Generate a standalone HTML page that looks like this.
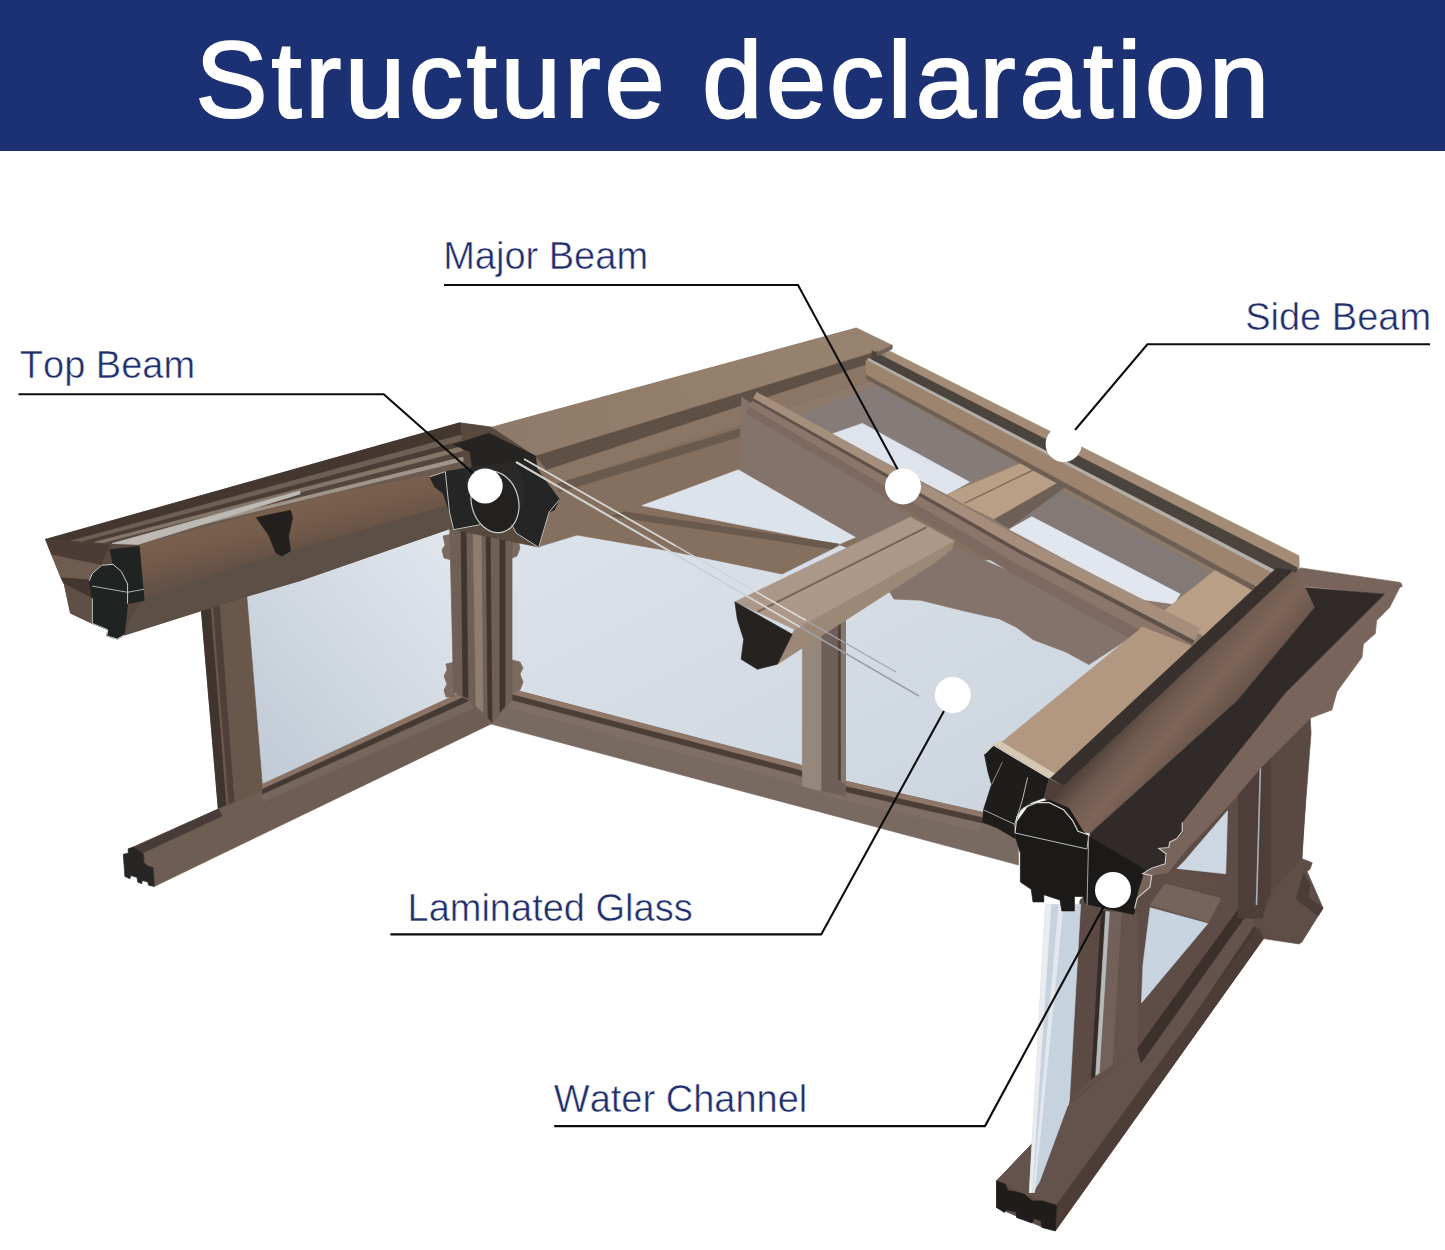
<!DOCTYPE html>
<html lang="en">
<head>
<meta charset="utf-8">
<title>Structure declaration</title>
<style>
html,body{margin:0;padding:0;background:#fff;}
body{width:1445px;height:1250px;position:relative;overflow:hidden;font-family:"Liberation Sans",Arial,sans-serif;}
#hdr{position:absolute;left:0;top:0;width:1445px;height:151px;background:#1c3074;}
#hdr h1{position:absolute;left:195.5px;top:17.5px;margin:0;font-weight:400;font-size:108px;line-height:124px;letter-spacing:3.85px;color:#fff;white-space:nowrap;-webkit-text-stroke:2.2px #fff;}
.lbl{position:absolute;font-size:37px;line-height:40px;color:#1f2f6e;white-space:nowrap;}
#art{position:absolute;left:0;top:0;width:1445px;height:1250px;}
</style>
</head>
<body>
<svg id="art" viewBox="0 0 1445 1250" width="1445" height="1250">
<defs>
<linearGradient id="gGlassL" x1="0" y1="1" x2="1" y2="0">
<stop offset="0" stop-color="#bfc9d4"/><stop offset="1" stop-color="#e3e8ee"/>
</linearGradient>
<linearGradient id="gGlassB" x1="0" y1="0" x2="1" y2="1">
<stop offset="0" stop-color="#dde3ea"/><stop offset="1" stop-color="#cad3dd"/>
</linearGradient>
</defs>
<!--LAYERS-->
<linearGradient id="gLB" gradientUnits="userSpaceOnUse" x1="250" y1="500" x2="265" y2="560"><stop offset="0" stop-color="#7d6452"/><stop offset=".55" stop-color="#765c4b"/><stop offset="1" stop-color="#645246"/></linearGradient>
<linearGradient id="gHump" gradientUnits="userSpaceOnUse" x1="1150" y1="690" x2="1222" y2="755"><stop offset="0" stop-color="#4f3f38"/><stop offset=".22" stop-color="#705b50"/><stop offset=".45" stop-color="#7d6658"/><stop offset=".8" stop-color="#655046"/><stop offset="1" stop-color="#453832"/></linearGradient>
<linearGradient id="gTopB" gradientUnits="userSpaceOnUse" x1="520" y1="420" x2="880" y2="340"><stop offset="0" stop-color="#907b6a"/><stop offset="1" stop-color="#988370"/></linearGradient>
<!-- left wall -->
<polygon points="244.0,597.0 453.0,527.0 468.0,692.0 262.0,787.0" fill="url(#gGlassL)"/>
<polygon points="201.0,606.0 246.4,592.0 262.7,790.0 262.7,810.0 218.4,810.0" fill="#6a574b" stroke="#6a574b" stroke-width="0.7" stroke-linejoin="round"/>
<polygon points="201.0,606.0 210.0,603.0 226.0,806.0 218.4,810.0" fill="#40342e" stroke="#40342e" stroke-width="0.7" stroke-linejoin="round"/>
<polygon points="213.0,602.0 219.0,600.0 234.0,802.0 229.0,804.0" fill="#4e4038" stroke="#4e4038" stroke-width="0.7" stroke-linejoin="round"/>
<polygon points="133.0,847.0 218.4,809.0 262.7,791.0 467.0,695.5 491.0,724.0 154.3,886.4 153.2,867.6 147.6,866.0 143.7,862.1 143.7,854.3" fill="#6e5d53" stroke="#6e5d53" stroke-width="0.7" stroke-linejoin="round"/>
<polygon points="262.7,784.0 465.5,690.3 467.8,695.3 262.7,789.0" fill="#8a7364" stroke="#8a7364" stroke-width="0.7" stroke-linejoin="round"/>
<polygon points="262.7,789.0 467.8,695.3 470.2,700.8 262.7,794.5" fill="#453933" stroke="#453933" stroke-width="0.7" stroke-linejoin="round"/>
<polygon points="262.7,794.5 470.2,700.8 473.6,708.3 262.7,802.0" fill="#76665b" stroke="#76665b" stroke-width="0.7" stroke-linejoin="round"/>
<polygon points="128.0,850.0 218.4,809.0 222.0,816.0 136.0,856.0" fill="#473c37" stroke="#473c37" stroke-width="0.7" stroke-linejoin="round"/>
<polygon points="123.3,854.3 128.2,853.2 128.2,848.8 133.2,847.1 143.7,854.3 143.7,862.1 147.6,866.0 153.2,867.6 154.3,886.4 148.7,885.3 147.6,882.0 142.6,880.4 141.5,883.7 137.7,882.0 137.1,877.6 131.0,875.4 129.9,878.7 124.9,876.5" fill="#282624" stroke="#282624" stroke-width="0.7" stroke-linejoin="round"/>
<!-- back wall -->
<polygon points="511.0,500.0 1000.0,560.0 1120.0,600.0 1150.0,640.0 1005.0,745.0 1000.0,822.0 985.0,817.0 842.0,784.0 800.0,770.0 511.0,694.0" fill="url(#gGlassB)"/>
<polygon points="511.0,689.0 800.3,765.0 838.4,779.6 981.0,812.0 1018.0,833.0 1018.5,865.0 491.0,724.0 468.0,696.0" fill="#786961" stroke="#786961" stroke-width="0.7" stroke-linejoin="round"/>
<polygon points="511.0,689.0 800.3,765.0 838.4,779.6 985.0,813.0 983.5,818.0 836.9,784.6 798.8,770.0 509.5,694.0" fill="#8f786a" stroke="#8f786a" stroke-width="0.7" stroke-linejoin="round"/>
<polygon points="509.5,694.0 798.8,770.0 836.9,784.6 983.5,818.0 981.9,823.5 835.2,790.1 797.1,775.5 507.9,699.5" fill="#4b3e37" stroke="#4b3e37" stroke-width="0.7" stroke-linejoin="round"/>
<polygon points="507.9,699.5 797.1,775.5 835.2,790.1 981.9,823.5 979.6,831.0 833.0,797.6 794.9,783.0 505.6,707.0" fill="#7f6e64" stroke="#7f6e64" stroke-width="0.7" stroke-linejoin="round"/>
<polygon points="802.4,620.0 845.3,610.0 845.3,796.0 802.4,786.0" fill="#96877d" stroke="#96877d" stroke-width="0.7" stroke-linejoin="round"/>
<polygon points="821.8,615.0 845.3,610.0 845.3,796.0 821.8,791.0" fill="#6e5f58" stroke="#6e5f58" stroke-width="0.7" stroke-linejoin="round"/>
<polygon points="838.4,612.0 841.2,611.0 841.2,781.0 838.4,780.0" fill="#4d413a" stroke="#4d413a" stroke-width="0.7" stroke-linejoin="round"/>
<polygon points="841.2,611.0 845.3,610.0 845.3,783.0 841.2,781.5" fill="#87786e" stroke="#87786e" stroke-width="0.7" stroke-linejoin="round"/>
<!-- corner post -->
<polygon points="446.0,664.0 455.0,662.0 455.0,697.0 446.0,697.0 444.0,690.0 447.0,684.0 444.0,676.0 447.0,670.0" fill="#7a6a5f" stroke="#7a6a5f" stroke-width="0.7" stroke-linejoin="round"/>
<polygon points="512.0,660.0 520.0,662.0 523.0,668.0 520.0,674.0 523.0,682.0 520.0,690.0 512.0,693.0" fill="#7a6a5f" stroke="#7a6a5f" stroke-width="0.7" stroke-linejoin="round"/>
<polygon points="443.0,536.0 452.0,534.0 452.0,560.0 444.0,558.0 442.0,550.0 445.0,545.0" fill="#7a6a5f" stroke="#7a6a5f" stroke-width="0.7" stroke-linejoin="round"/>
<polygon points="512.0,538.0 518.0,540.0 520.0,548.0 517.0,556.0 512.0,558.0" fill="#7a6a5f" stroke="#7a6a5f" stroke-width="0.7" stroke-linejoin="round"/>
<polygon points="449.5,520.0 512.0,520.0 512.0,700.0 491.0,724.0 468.0,700.0 453.6,692.0" fill="#6f5f54" stroke="#6f5f54" stroke-width="0.7" stroke-linejoin="round"/>
<polygon points="461.0,525.0 466.0,525.0 468.0,698.0 463.0,696.0" fill="#40352f" stroke="#40352f" stroke-width="0.7" stroke-linejoin="round"/>
<polygon points="473.0,525.0 481.0,525.0 483.0,712.0 476.0,706.0" fill="#8e7d70" stroke="#8e7d70" stroke-width="0.7" stroke-linejoin="round"/>
<polygon points="486.0,525.0 490.0,525.0 492.0,722.0 488.0,718.0" fill="#40352f" stroke="#40352f" stroke-width="0.7" stroke-linejoin="round"/>
<polygon points="500.0,525.0 505.0,525.0 505.0,706.0 500.0,712.0" fill="#40352f" stroke="#40352f" stroke-width="0.7" stroke-linejoin="round"/>
<!-- right wall -->
<polygon points="1080.0,900.0 1240.0,760.0 1310.0,712.0 1302.0,860.0 1323.0,908.0 1299.5,944.0 1263.5,938.6 1055.3,1230.8 1042.0,1227.0 996.6,1207.5 996.6,1180.9 1069.0,1105.0" fill="#5e4c46" stroke="#5e4c46" stroke-width="0.7" stroke-linejoin="round"/>
<polygon points="1150.2,907.7 1207.8,923.6 1141.5,1002.8 1143.0,965.0" fill="#c8d4e0" stroke="#c8d4e0" stroke-width="0.7" stroke-linejoin="round"/>
<polygon points="1150.0,905.0 1165.0,884.0 1221.0,898.0 1208.5,922.5" fill="#75645c" stroke="#75645c" stroke-width="0.7" stroke-linejoin="round"/>
<polygon points="1164.6,881.8 1176.1,868.8 1222.2,878.9 1220.8,897.6" fill="#5f4d46" stroke="#5f4d46" stroke-width="0.7" stroke-linejoin="round"/>
<polygon points="1184.3,861.2 1227.5,810.8 1225.7,873.8 1177.1,868.4" fill="#cdd7e2" stroke="#cdd7e2" stroke-width="0.7" stroke-linejoin="round"/>
<polygon points="1137.5,1048.5 1241.9,904.4 1258.0,928.0 1056.4,1205.3 1024.0,1194.0 1005.0,1184.0 996.6,1180.9 1069.0,1105.0" fill="#64524c" stroke="#64524c" stroke-width="0.7" stroke-linejoin="round"/>
<polygon points="1137.5,1048.5 1241.9,904.4 1247.3,913.4 1141.1,1062.9" fill="#3c302c" stroke="#3c302c" stroke-width="0.7" stroke-linejoin="round"/>
<polygon points="1155.5,1073.7 1254.5,926.0 1258.1,931.4 1159.1,1084.5" fill="#463a35" stroke="#463a35" stroke-width="0.7" stroke-linejoin="round"/>
<polygon points="1079.8,909.8 1137.5,913.4 1137.5,1048.5 1069.0,1100.7" fill="#64524c" stroke="#64524c" stroke-width="0.7" stroke-linejoin="round"/>
<polygon points="1079.8,909.8 1101.4,911.3 1091.4,1079.1 1069.0,1100.7" fill="#5c4a44" stroke="#5c4a44" stroke-width="0.7" stroke-linejoin="round"/>
<polygon points="1101.4,911.3 1105.8,911.6 1095.7,1075.5 1091.4,1079.1" fill="#352c29" stroke="#352c29" stroke-width="0.7" stroke-linejoin="round"/>
<polygon points="1105.8,911.6 1110.1,912.0 1100.0,1072.6 1095.7,1075.5" fill="#b5baba" stroke="#b5baba" stroke-width="0.7" stroke-linejoin="round"/>
<polygon points="1110.1,912.0 1121.3,912.4 1112.3,1064.7 1100.0,1072.6" fill="#73605a" stroke="#73605a" stroke-width="0.7" stroke-linejoin="round"/>
<polygon points="1262.5,750.0 1310.0,716.0 1311.0,733.0 1301.4,858.5 1262.0,900.0" fill="#5a4943" stroke="#5a4943" stroke-width="0.7" stroke-linejoin="round"/>
<polygon points="1238.3,763.3 1270.7,741.7 1270.7,918.1 1238.3,918.1" fill="#4e3f3a" stroke="#4e3f3a" stroke-width="0.7" stroke-linejoin="round"/>
<polygon points="1301.4,858.5 1312.2,862.8 1310.0,869.3 1303.6,873.6 1310.0,884.4 1307.9,897.3 1323.0,908.0 1301.4,942.7 1271.2,934.0 1260.4,927.6 1268.0,900.0" fill="#5f4e48" stroke="#5f4e48" stroke-width="0.7" stroke-linejoin="round"/>
<polygon points="1303.6,873.6 1310.0,884.4 1307.9,897.3 1323.0,908.0 1318.0,916.0 1296.0,899.0" fill="#4a3c37" stroke="#4a3c37" stroke-width="0.7" stroke-linejoin="round"/>
<polyline points="1260.4,768.0 1256.5,905.0" fill="none" stroke="#a9afb8" stroke-width="1.6"/>
<polygon points="1056.4,1205.3 1258.0,928.0 1263.5,938.6 1055.3,1230.8" fill="#4d3d37" stroke="#4d3d37" stroke-width="0.7" stroke-linejoin="round"/>
<polygon points="996.6,1180.9 1005.5,1184.3 1007.7,1190.4 1016.5,1192.0 1024.3,1194.2 1032.0,1200.9 1042.0,1200.9 1056.4,1205.3 1055.3,1230.8 1042.0,1227.5 1040.9,1220.8 1034.3,1218.6 1032.0,1223.0 1016.5,1217.5 1016.5,1212.0 1006.6,1209.7 1004.4,1212.5 996.6,1207.5" fill="#1f1c1a" stroke="#1f1c1a" stroke-width="0.7" stroke-linejoin="round"/>
<polygon points="1045.6,904.4 1080.6,904.4 1069.4,1100.7 1039.5,1181.7 1033.0,1192.5 1029.4,1192.5" fill="#c6d2de" stroke="#c6d2de" stroke-width="0.7" stroke-linejoin="round"/>
<polygon points="1045.6,904.4 1051.0,904.4 1031.9,1192.5 1029.4,1192.5" fill="#e9edf1" stroke="#e9edf1" stroke-width="0.7" stroke-linejoin="round"/>
<polygon points="1059.0,904.4 1063.3,904.4 1034.5,1192.5 1033.0,1192.5" fill="#e3e8ee" stroke="#e3e8ee" stroke-width="0.7" stroke-linejoin="round"/>
<!-- roof back beam -->
<polygon points="536.0,457.0 880.0,355.0 1000.0,420.0 1000.0,560.0 880.0,560.0 840.0,545.0 782.0,574.0 674.5,551.7 577.0,535.0 538.7,546.7" fill="#85705f" stroke="#85705f" stroke-width="0.7" stroke-linejoin="round"/>
<polygon points="642.1,505.6 739.2,469.5 856.3,536.7 838.9,544.2" fill="#dde3eb" stroke="#dde3eb" stroke-width="0.7" stroke-linejoin="round"/>
<polygon points="624.6,511.8 838.9,544.0 832.0,549.0 612.0,516.0" fill="#6a594d" stroke="#6a594d" stroke-width="0.7" stroke-linejoin="round"/>
<polygon points="756.0,392.0 880.0,350.0 1299.0,563.0 1297.0,580.0 1200.0,654.0 1145.0,630.0" fill="#8c7a6c" stroke="#8c7a6c" stroke-width="0.7" stroke-linejoin="round"/>
<polygon points="459.9,422.8 491.0,427.0 856.3,327.5 892.3,345.0 877.4,352.4 536.0,457.0" fill="url(#gTopB)"/>
<polygon points="536.0,456.0 877.4,351.4 872.0,363.0 547.0,470.0" fill="#5f5046" stroke="#5f5046" stroke-width="0.7" stroke-linejoin="round"/>
<polygon points="547.0,470.0 872.0,363.0 880.0,378.0 556.0,484.0" fill="#8b7564" stroke="#8b7564" stroke-width="0.7" stroke-linejoin="round"/>
<polygon points="556.0,484.0 742.0,428.0 742.0,436.0 560.0,492.0" fill="#6a5a4d" stroke="#6a5a4d" stroke-width="0.7" stroke-linejoin="round"/>
<!-- roof panel right of major beam -->
<polygon points="874.9,386.0 1014.4,462.0 969.5,482.0 947.1,494.4 832.0,434.0 799.0,417.0" fill="#857b78" stroke="#857b78" stroke-width="0.7" stroke-linejoin="round"/>
<polygon points="832.0,434.0 862.4,423.4 969.5,482.0 947.1,494.4" fill="#dfe4ec" stroke="#dfe4ec" stroke-width="0.7" stroke-linejoin="round"/>
<polygon points="994.5,519.3 1056.7,489.4 1200.0,566.6 1213.7,584.1 1178.8,604.0 1009.4,529.3" fill="#837976" stroke="#837976" stroke-width="0.7" stroke-linejoin="round"/>
<polygon points="1009.4,529.3 1031.8,516.8 1180.1,594.0 1173.8,604.0 1139.0,599.0" fill="#e2e6ee" stroke="#e2e6ee" stroke-width="0.7" stroke-linejoin="round"/>
<polygon points="947.1,494.4 1024.4,462.0 1061.7,480.7 994.5,519.3 964.6,504.4" fill="#b89f86" stroke="#b89f86" stroke-width="0.7" stroke-linejoin="round"/>
<polygon points="994.5,519.3 1061.7,480.7 1064.2,487.4 1009.4,528.0" fill="#6e6056" stroke="#6e6056" stroke-width="0.7" stroke-linejoin="round"/>
<polyline points="964.6,503.1 1036.8,468.2" fill="none" stroke="#7d6b5c" stroke-width="1.5"/>
<polygon points="1163.6,611.3 1221.4,565.3 1276.7,574.5 1208.3,638.9" fill="#b89f86" stroke="#b89f86" stroke-width="0.7" stroke-linejoin="round"/>
<!-- side beam strips -->
<polygon points="886.0,349.2 1299.0,555.7 1299.0,568.6 886.0,357.9" fill="#a38b76" stroke="#a38b76" stroke-width="0.7" stroke-linejoin="round"/>
<polygon points="872.0,350.8 1297.0,567.6 1297.0,582.5 872.0,360.7" fill="#4b443e" stroke="#4b443e" stroke-width="0.7" stroke-linejoin="round"/>
<polygon points="868.0,358.1 1295.0,580.8 1295.0,585.2 868.0,361.0" fill="#b4afa8" stroke="#b4afa8" stroke-width="0.7" stroke-linejoin="round"/>
<polygon points="866.0,360.0 1287.0,581.0 1287.0,603.6 866.0,375.0" fill="#9c846f" stroke="#9c846f" stroke-width="0.7" stroke-linejoin="round"/>
<polygon points="866.0,375.0 1280.0,599.8 1280.0,605.2 866.0,378.6" fill="#6e5f54" stroke="#6e5f54" stroke-width="0.7" stroke-linejoin="round"/>
<polygon points="892.3,345.0 877.4,352.4 877.0,356.0 892.0,349.0" fill="#6e5f54" stroke="#6e5f54" stroke-width="0.7" stroke-linejoin="round"/>
<!-- major beam -->
<polygon points="741.7,397.0 951.9,546.2 1142.9,629.3 1088.9,664.6 1066.0,652.1 1032.9,639.6 1016.3,627.2 999.6,618.9 962.3,610.6 920.8,600.2 894.0,599.0 856.0,537.0 739.0,469.5" fill="#84736a" stroke="#84736a" stroke-width="0.7" stroke-linejoin="round"/>
<polygon points="756.7,392.2 850.0,443.6 947.0,497.0 1024.6,540.0 1100.0,578.0 1200.0,628.5 1194.0,640.5 1094.6,588.8 1019.7,549.9 942.5,505.9 846.1,451.3 753.4,398.8" fill="#a58f7c" stroke="#a58f7c" stroke-width="0.7" stroke-linejoin="round"/>
<polygon points="753.4,398.8 846.1,451.3 942.5,505.9 1019.7,549.9 1094.6,588.8 1194.0,640.5 1192.0,644.5 1092.8,592.4 1018.0,553.2 941.1,508.9 844.8,453.9 752.3,401.0" fill="#5f5048" stroke="#5f5048" stroke-width="0.7" stroke-linejoin="round"/>
<polygon points="752.3,401.0 844.8,453.9 941.1,508.9 1018.0,553.2 1092.8,592.4 1192.0,644.5 1186.5,655.5 1087.9,602.3 1013.5,562.2 937.0,517.1 841.3,461.0 749.3,407.1" fill="#8c7669" stroke="#8c7669" stroke-width="0.7" stroke-linejoin="round"/>
<polygon points="749.3,407.1 841.3,461.0 937.0,517.1 1013.5,562.2 1087.9,602.3 1186.5,655.5 1181.0,666.5 1082.9,612.2 1009.0,571.2 932.9,525.2 837.8,468.1 746.2,413.1" fill="#7d695f" stroke="#7d695f" stroke-width="0.7" stroke-linejoin="round"/>
<!-- cross beam left segment -->
<polygon points="794.7,629.3 954.2,540.9 951.7,549.6 931.8,564.6 777.3,664.2" fill="#9c8877" stroke="#9c8877" stroke-width="0.7" stroke-linejoin="round"/>
<polygon points="734.9,601.9 910.6,517.2 954.2,540.9 794.7,629.3" fill="#ac9888" stroke="#ac9888" stroke-width="0.7" stroke-linejoin="round"/>
<polyline points="757.4,611.9 926.8,527.2" fill="none" stroke="#766454" stroke-width="2"/>
<polygon points="734.9,601.9 792.2,634.3 777.3,664.2 757.4,669.2 741.2,659.2 743.7,639.3 737.4,619.4" fill="#252220" stroke="#252220" stroke-width="0.7" stroke-linejoin="round"/>
<!-- eave beam -->
<polygon points="1002.4,741.7 1142.5,627.0 1192.5,646.8 1050.5,778.2 993.4,745.0" fill="#b29880" stroke="#b29880" stroke-width="0.7" stroke-linejoin="round"/>
<polygon points="984.4,754.0 993.4,745.0 1049.2,778.3 1043.8,798.0 1031.2,802.6 1020.4,809.8 1014.1,826.0 1015.0,838.5 997.0,827.7 982.6,822.3 983.5,809.8 991.6,784.6 988.0,772.0" fill="#1f1d1b" stroke="#1f1d1b" stroke-width="0.7" stroke-linejoin="round"/>
<polyline points="984.4,754.0 993.4,745.0 1049.2,778.3" fill="none" stroke="#d8d4cc" stroke-width="1.3"/>
<polygon points="993.4,744.1 999.7,741.0 1056.4,774.7 1049.2,777.4" fill="#d6c8b3" stroke="#d6c8b3" stroke-width="0.7" stroke-linejoin="round"/>
<polyline points="1027.6,777.4 1022.2,800.8 1014.1,825.9" fill="none" stroke="#b9b9b4" stroke-width="1"/>
<polyline points="983.5,809.8 1014.1,824.1" fill="none" stroke="#a9a9a4" stroke-width="1"/>
<polyline points="1002.4,762.1 991.6,784.6" fill="none" stroke="#8f8f8a" stroke-width="1"/>
<!-- rubber strip -->
<!-- gutter -->
<polygon points="1300.3,567.9 1400.3,582.4 1402.4,586.3 1384.5,594.2 1303.0,586.3 1292.4,575.8" fill="#78645a" stroke="#78645a" stroke-width="0.7" stroke-linejoin="round"/>
<polygon points="1384.5,594.2 1401.6,583.7 1389.7,607.3 1376.6,620.5 1375.3,633.6 1363.4,644.0 1362.0,657.3 1337.0,691.5 1331.9,709.9 1310.8,717.8 1260.9,767.7 1229.3,804.5 1187.0,849.0 1167.9,872.7 1151.7,875.4 1149.9,887.1 1137.3,897.9 1133.9,914.5 1108.7,909.1 1092.0,900.0 1144.7,869.5 1182.6,821.7 1286.0,692.0" fill="#78645a" stroke="#78645a" stroke-width="0.7" stroke-linejoin="round"/>
<polygon points="1063.7,786.0 1292.4,570.5 1305.6,587.6 1314.8,607.3 1237.2,700.7 1090.0,833.5 1078.0,831.3 1072.6,820.5 1063.6,809.8 1049.2,802.6 1043.8,798.0 1049.2,778.3" fill="url(#gHump)"/>
<polygon points="1050.5,778.2 1276.7,567.9 1292.4,570.5 1063.7,786.0" fill="#37302d" stroke="#37302d" stroke-width="0.7" stroke-linejoin="round"/>
<polygon points="1305.6,587.6 1384.5,594.2 1286.0,692.0 1182.6,821.7 1182.6,832.5 1177.2,839.0 1169.7,841.2 1168.6,847.7 1158.9,848.7 1166.4,854.1 1165.4,863.9 1152.4,868.2 1142.7,873.6 1092.0,900.0 1090.0,833.5 1237.2,700.7 1314.8,607.3" fill="#302a28" stroke="#302a28" stroke-width="0.7" stroke-linejoin="round"/>
<polygon points="1015.0,824.5 1029.4,804.7 1049.2,800.0 1069.0,808.3 1083.4,831.7 1092.4,838.9 1144.7,869.5 1137.5,892.9 1133.9,914.5 1108.7,909.1 1085.2,903.7 1083.4,896.5 1074.4,896.5 1074.4,910.9 1061.8,910.9 1060.0,900.1 1043.8,894.7 1043.8,901.9 1033.0,901.9 1031.2,889.3 1020.4,882.1 1020.4,853.3 1015.0,835.3" fill="#1c1a19" stroke="#1c1a19" stroke-width="0.7" stroke-linejoin="round"/>
<polyline points="1015.0,833.0 1016.8,817.0 1024.0,808.0 1036.6,802.6 1049.2,802.6 1063.6,809.8 1072.6,820.5 1078.0,831.3 1088.7,835.0" fill="none" stroke="#d8d8d4" stroke-width="1.2"/>
<polyline points="1015.0,833.0 1087.0,849.0 1088.7,835.0" fill="none" stroke="#bdbdb8" stroke-width="1"/>
<polyline points="1088.7,835.0 1087.0,905.0" fill="none" stroke="#a5a5a0" stroke-width="1"/>
<polyline points="1182.3,822.3 1182.3,831.3 1176.9,838.5 1169.7,842.1 1168.8,847.5 1158.9,848.4 1166.1,853.8 1165.2,863.7 1151.7,868.2 1142.7,873.6 1151.7,875.4 1149.9,887.1 1137.3,897.9 1134.6,908.7" fill="none" stroke="#cfcac4" stroke-width="1.2"/>
<!-- left top beam -->
<polygon points="45.6,539.4 459.9,422.8 491.0,427.0 536.0,457.0 538.7,547.0 449.5,528.7 300.0,580.6 246.0,596.5 124.5,635.0 117.2,639.0 106.8,636.0 107.8,629.7 92.3,623.4 70.5,613.0 64.3,584.0 61.1,577.8 51.8,555.0" fill="#58493f" stroke="#58493f" stroke-width="0.7" stroke-linejoin="round"/>
<polygon points="45.6,539.4 459.9,422.8 461.0,435.1 71.1,540.8" fill="#43372f" stroke="#43372f" stroke-width="0.7" stroke-linejoin="round"/>
<polygon points="71.1,540.8 461.0,435.1 461.5,441.1 83.4,541.5" fill="#6e5f54" stroke="#6e5f54" stroke-width="0.7" stroke-linejoin="round"/>
<polygon points="83.4,541.5 461.5,441.1 462.0,446.6 94.7,542.1" fill="#4a3d36" stroke="#4a3d36" stroke-width="0.7" stroke-linejoin="round"/>
<polygon points="94.7,542.1 462.0,446.6 462.4,451.6 105.1,542.7" fill="#85766a" stroke="#85766a" stroke-width="0.7" stroke-linejoin="round"/>
<polygon points="105.1,542.7 462.4,451.6 462.9,457.1 116.4,543.3" fill="#54463e" stroke="#54463e" stroke-width="0.7" stroke-linejoin="round"/>
<polygon points="116.4,543.3 462.9,457.1 463.3,461.6 125.8,543.8" fill="#a0958a" stroke="#a0958a" stroke-width="0.7" stroke-linejoin="round"/>
<polygon points="125.8,543.8 463.3,461.6 463.9,468.5 140.0,544.6" fill="#6a5a4f" stroke="#6a5a4f" stroke-width="0.7" stroke-linejoin="round"/>
<polygon points="112.0,543.5 300.0,491.0 300.0,494.0 138.0,544.4" fill="#bdb9b4" stroke="#bdb9b4" stroke-width="0.7" stroke-linejoin="round"/>
<polygon points="140.0,544.6 330.0,493.7 464.0,468.5 472.0,499.0 422.7,513.0 240.0,566.0 144.2,598.0" fill="url(#gLB)"/>
<polygon points="144.2,598.0 240.0,566.0 422.7,513.0 472.0,499.0 480.0,524.0 449.5,528.7 300.0,580.6 246.0,596.5 124.5,635.0 130.0,620.0" fill="#5c5046" stroke="#5c5046" stroke-width="0.7" stroke-linejoin="round"/>
<polygon points="45.6,539.4 109.9,544.6 100.6,565.3 51.8,554.9" fill="#4b3d35" stroke="#4b3d35" stroke-width="0.7" stroke-linejoin="round"/>
<polygon points="51.8,554.9 100.6,565.3 91.2,579.9 61.1,577.8" fill="#6e5c50" stroke="#6e5c50" stroke-width="0.7" stroke-linejoin="round"/>
<polygon points="61.1,577.8 91.2,579.9 92.3,598.5 64.3,584.0" fill="#43362f" stroke="#43362f" stroke-width="0.7" stroke-linejoin="round"/>
<polygon points="64.3,584.0 92.3,598.5 92.3,623.4 70.5,613.1" fill="#5f4f45" stroke="#5f4f45" stroke-width="0.7" stroke-linejoin="round"/>
<polygon points="89.2,580.9 92.3,573.6 101.6,565.3 113.0,564.3 109.9,549.7 139.0,546.6 144.2,600.6 127.6,603.7 124.5,634.9 117.2,639.0 106.8,635.9 107.8,629.7 92.3,623.4 92.3,598.5" fill="#1f2321" stroke="#1f2321" stroke-width="0.7" stroke-linejoin="round"/>
<polyline points="89.2,580.9 92.3,573.6 101.6,565.3 113.0,564.3 121.3,571.5 127.6,584.0 127.6,603.7" fill="none" stroke="#c9cfca" stroke-width="1"/>
<polyline points="92.3,586.1 127.6,592.3 144.2,589.2" fill="none" stroke="#aab0ab" stroke-width="1"/>
<polyline points="92.3,598.5 92.3,623.4 107.8,629.7 106.8,635.9 117.2,639.0 124.5,634.9" fill="none" stroke="#c9cfca" stroke-width="1"/>
<polygon points="256.3,517.6 290.5,510.3 292.6,517.6 288.5,536.3 290.5,550.8 282.2,556.0 276.0,552.9 268.7,535.2" fill="#231f1d" stroke="#231f1d" stroke-width="0.7" stroke-linejoin="round"/>
<!-- corner profile -->
<polygon points="453.6,444.6 488.9,433.2 535.6,456.1 536.7,468.5 515.9,462.3 507.6,474.7 472.3,468.5 470.2,451.9" fill="#262422" stroke="#262422" stroke-width="0.7" stroke-linejoin="round"/>
<polygon points="429.7,476.8 445.3,471.6 464.0,468.5 472.3,512.1 480.6,524.6 453.6,529.7 449.5,512.1 443.2,493.4 434.9,487.2" fill="#242524" stroke="#242524" stroke-width="0.7" stroke-linejoin="round"/>
<polygon points="515.9,462.3 536.7,468.5 559.5,499.6 554.3,510.0 549.1,512.1 538.7,547.4 515.9,532.9 511.8,524.6 523.2,503.8 524.2,483.0" fill="#242524" stroke="#242524" stroke-width="0.7" stroke-linejoin="round"/>
<polygon points="464.0,468.5 515.9,462.3 524.2,483.0 523.2,503.8 511.8,524.6 499.3,532.9 480.6,524.6 472.3,512.1" fill="#2b2927" stroke="#2b2927" stroke-width="0.7" stroke-linejoin="round"/>
<ellipse cx="495" cy="502" rx="23.5" ry="31" transform="rotate(-14 495 502)" fill="#23211f" stroke="#c8ccc8" stroke-width="1.2"/>
<polyline points="429.7,476.8 445.3,471.6 449.5,512.1 453.6,529.7 480.6,524.6" fill="none" stroke="#bfc4bf" stroke-width="1"/>
<polyline points="511.8,524.6 515.9,532.9 538.7,547.4 549.1,512.1 559.5,499.6" fill="none" stroke="#bfc4bf" stroke-width="1"/>
<!-- laminated glass strips -->
<polyline points="516.0,462.0 670.0,551.4" fill="none" stroke="#cfcfcb" stroke-width="2.2"/>
<polyline points="670.0,551.4 745.0,595.0" fill="none" stroke="#c9ced6" stroke-width="1.6"/>
<polyline points="745.0,595.0 800.0,627.0" fill="none" stroke="#d9d5cf" stroke-width="1.8"/>
<polyline points="800.0,627.0 919.0,696.0" fill="none" stroke="#9da1a5" stroke-width="1.6"/>
<polyline points="524.0,459.0 676.0,546.0" fill="none" stroke="#d6d6d2" stroke-width="1.8"/>
<polyline points="676.0,546.0 752.0,589.5" fill="none" stroke="#cdd2da" stroke-width="1.4"/>
<polyline points="752.0,589.5 806.0,620.5" fill="none" stroke="#ddd9d3" stroke-width="1.6"/>
<polyline points="806.0,620.5 896.0,672.0" fill="none" stroke="#a5a9ad" stroke-width="1.4"/>
<!-- leaders -->
<g fill="none" stroke="#0c0c0c" stroke-width="2.1" stroke-linejoin="miter">
<polyline points="444,285 798,285 898,470"/>
<polyline points="18.5,394.3 383.7,394.3 474,474"/>
<polyline points="1430,344.2 1147.4,344.2 1075,430"/>
<polyline points="390.4,934.4 821.2,934.4 944,711"/>
<polyline points="554.2,1126.1 985,1126.1 1104,906"/>
</g>
<g fill="#fff"><circle cx="485.2" cy="486" r="17.5"/><circle cx="903" cy="486.4" r="18"/><circle cx="1063.6" cy="444" r="18"/><circle cx="952.8" cy="695" r="18"/><circle cx="1113" cy="890" r="18"/></g>
<g font-family="Liberation Sans, Arial, sans-serif" font-size="38" fill="#1f2f6e" stroke="#ffffff" stroke-width="0.5" paint-order="fill stroke" style="font-kerning:none">
<text x="443.2" y="269.3">Major Beam</text>
<text x="19.8" y="378.3">Top Beam</text>
<text x="1245.2" y="330.1">Side Beam</text>
<text x="407.5" y="920.9">Laminated Glass</text>
<text x="553.8" y="1111.9">Water Channel</text>
</g>
<!--/LAYERS-->
</svg>
<div id="hdr"><h1>Structure declaration</h1></div>
</body>
</html>
